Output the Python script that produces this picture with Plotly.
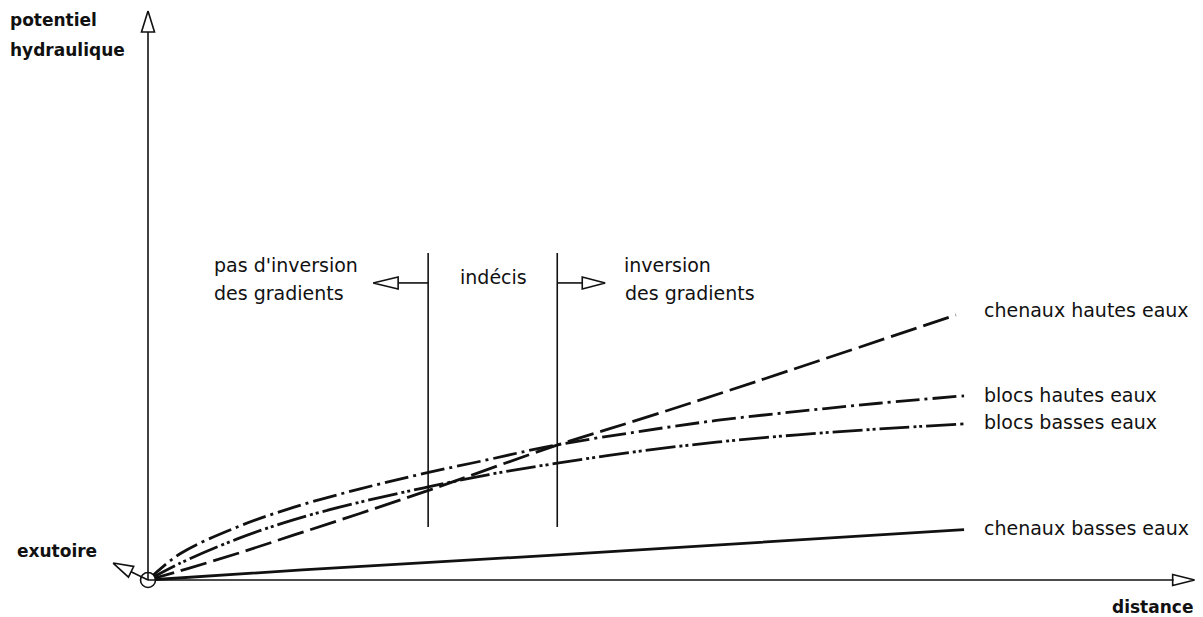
import plotly.graph_objects as go

# ---- data (distance / potentiel hydraulique, arbitrary units) ----
dist_chenaux_hautes = [0, 5, 11, 18, 26, 35, 50, 62, 75, 99.5]
pot_chenaux_hautes = [0, 4.4, 10, 17, 25, 34.3, 50.5, 62, 75, 100]

dist_blocs = [0, 4, 11, 18, 26, 34, 42, 50, 60, 70, 80, 90, 100.5]
pot_blocs_hautes = [0, 10, 20, 27.5, 34.3, 40.2, 45.5, 50.8, 55.8, 60.2, 63.6, 66.7, 69.5]
pot_blocs_basses = [0, 6.4, 15.5, 22.8, 29.3, 34.8, 39.8, 43.9, 48.4, 52.0, 54.8, 57.0, 58.9]

dist_chenaux_basses = [0, 19, 50, 100.5]
pot_chenaux_basses = [0, 3.8, 9.4, 19]

# limits of the "indécis" zone (distance)
zone_limits = [34.5, 50.4]

series_names = ["chenaux hautes eaux", "blocs hautes eaux",
                "blocs basses eaux", "chenaux basses eaux"]

# ---- drawing scale ----
W, H = 1203, 617
SX, SY = 8.12, 2.65          # pixels per data unit
OX, OY = 148, 580            # pixel position of the origin
x_range = [-OX / SX, (W - OX) / SX]
y_range = [-(H - OY) / SY, OY / SY]

INK = "#111111"
FONT = "DejaVu Sans"


def dx(px):
    return px / SX


def dy(px):
    return px / SY


fig = go.Figure()

# curves
styles = [
    (dist_chenaux_hautes, pot_chenaux_hautes, "27px,7px"),
    (dist_blocs, pot_blocs_hautes, "24px,5px,3px,5px"),
    (dist_blocs, pot_blocs_basses, "30px,4px,3px,3px,3px,4px"),
    (dist_chenaux_basses, pot_chenaux_basses, "solid"),
]
for (xs, ys, dash), name in zip(styles, series_names):
    fig.add_trace(go.Scatter(
        x=xs, y=ys, mode="lines", name=name,
        line=dict(color=INK, width=2.8, dash=dash, shape="spline", smoothing=1.0),
        hoverinfo="skip"))

# axes
Y_TOP = 214.7        # tip of the potential axis arrow
X_END = 128.9        # tip of the distance axis arrow
head_len, head_half = 21, 6.5

fig.add_shape(type="line", x0=0, y0=0, x1=0, y1=Y_TOP - dy(head_len),
              line=dict(color=INK, width=1.6))
fig.add_shape(type="line", x0=0, y0=0, x1=X_END - dx(head_len), y1=0,
              line=dict(color=INK, width=1.6))


def open_head(tip, ux, uy, length, half):
    """open triangular arrow head; (ux, uy) unit direction in pixels, y up"""
    tx, ty = tip
    bx, by = tx - dx(length * ux), ty - dy(length * uy)
    px_, py_ = -uy, ux
    xs = [tx, bx + dx(half * px_), bx - dx(half * px_), tx]
    ys = [ty, by + dy(half * py_), by - dy(half * py_), ty]
    fig.add_trace(go.Scatter(x=xs, y=ys, mode="lines", fill="toself",
                             fillcolor="white", line=dict(color=INK, width=1.6),
                             hoverinfo="skip", showlegend=False))
    return bx, by


open_head((0, Y_TOP), 0, 1, head_len, head_half)
open_head((X_END, 0), 1, 0, 22, 5.5)

# exutoire arrow
ex_tip = (-4.3, 6.4)
ux, uy = -0.9, 0.437
bx, by = open_head(ex_tip, ux, uy, 20, 6)
fig.add_shape(type="line", x0=0, y0=0, x1=bx, y1=by, line=dict(color=INK, width=1.6))

# zone limits
Z_BOTTOM, Z_TOP = 20, 123.4
for xz in zone_limits:
    fig.add_shape(type="line", x0=xz, x1=xz, y0=Z_BOTTOM, y1=Z_TOP,
                  line=dict(color=INK, width=1.6))

# small arrows from the zone limits
ARROW_Y = 112.1
fig.add_shape(type="line", x0=zone_limits[0], x1=zone_limits[0] - dx(30), y0=ARROW_Y, y1=ARROW_Y,
              line=dict(color=INK, width=1.6))
open_head((zone_limits[0] - dx(55), ARROW_Y), -1, 0, 25, 6)
fig.add_shape(type="line", x0=zone_limits[1], x1=zone_limits[1] + dx(25), y0=ARROW_Y, y1=ARROW_Y,
              line=dict(color=INK, width=1.6))
open_head((zone_limits[1] + dx(48), ARROW_Y), 1, 0, 23, 6)

# outlet circle
fig.add_trace(go.Scatter(x=[0], y=[0], mode="markers",
                         marker=dict(size=15, color="white", line=dict(color=INK, width=1.6)),
                         hoverinfo="skip", showlegend=False))


# ---- text ----
def label(text, x, y, size=19, bold=False, xanchor="left"):
    fig.add_annotation(x=x, y=y, xref="x", yref="y", text=f"<b>{text}</b>" if bold else text,
                       showarrow=False, xanchor=xanchor, yanchor="middle",
                       font=dict(family=FONT, size=size, color=INK))


label("potentiel", -17.24, 211.3, 17, True)
label("hydraulique", -17.24, 200.0, 17, True)
label("exutoire", -16.4, 10.9, 17, True)
label("distance", 129.0, -10.2, 17, True, xanchor="right")

label("pas d'inversion", 7.9, 118.9)
label("des gradients", 7.9, 108.3)
label("indécis", 38.2, 114.3)
label("inversion", 58.4, 118.9)
label("des gradients", 58.5, 108.3)

label_pos = [(102.7, 101.9), (102.7, 69.8), (102.7, 59.6), (102.7, 19.6)]
for name, (lx, ly) in zip(series_names, label_pos):
    label(name, lx, ly)

fig.update_layout(
    width=W, height=H, margin=dict(l=0, r=0, t=0, b=0),
    paper_bgcolor="white", plot_bgcolor="white", showlegend=False,
    xaxis=dict(range=x_range, visible=False, fixedrange=True),
    yaxis=dict(range=y_range, visible=False, fixedrange=True),
)

fig.write_html("out.html")
